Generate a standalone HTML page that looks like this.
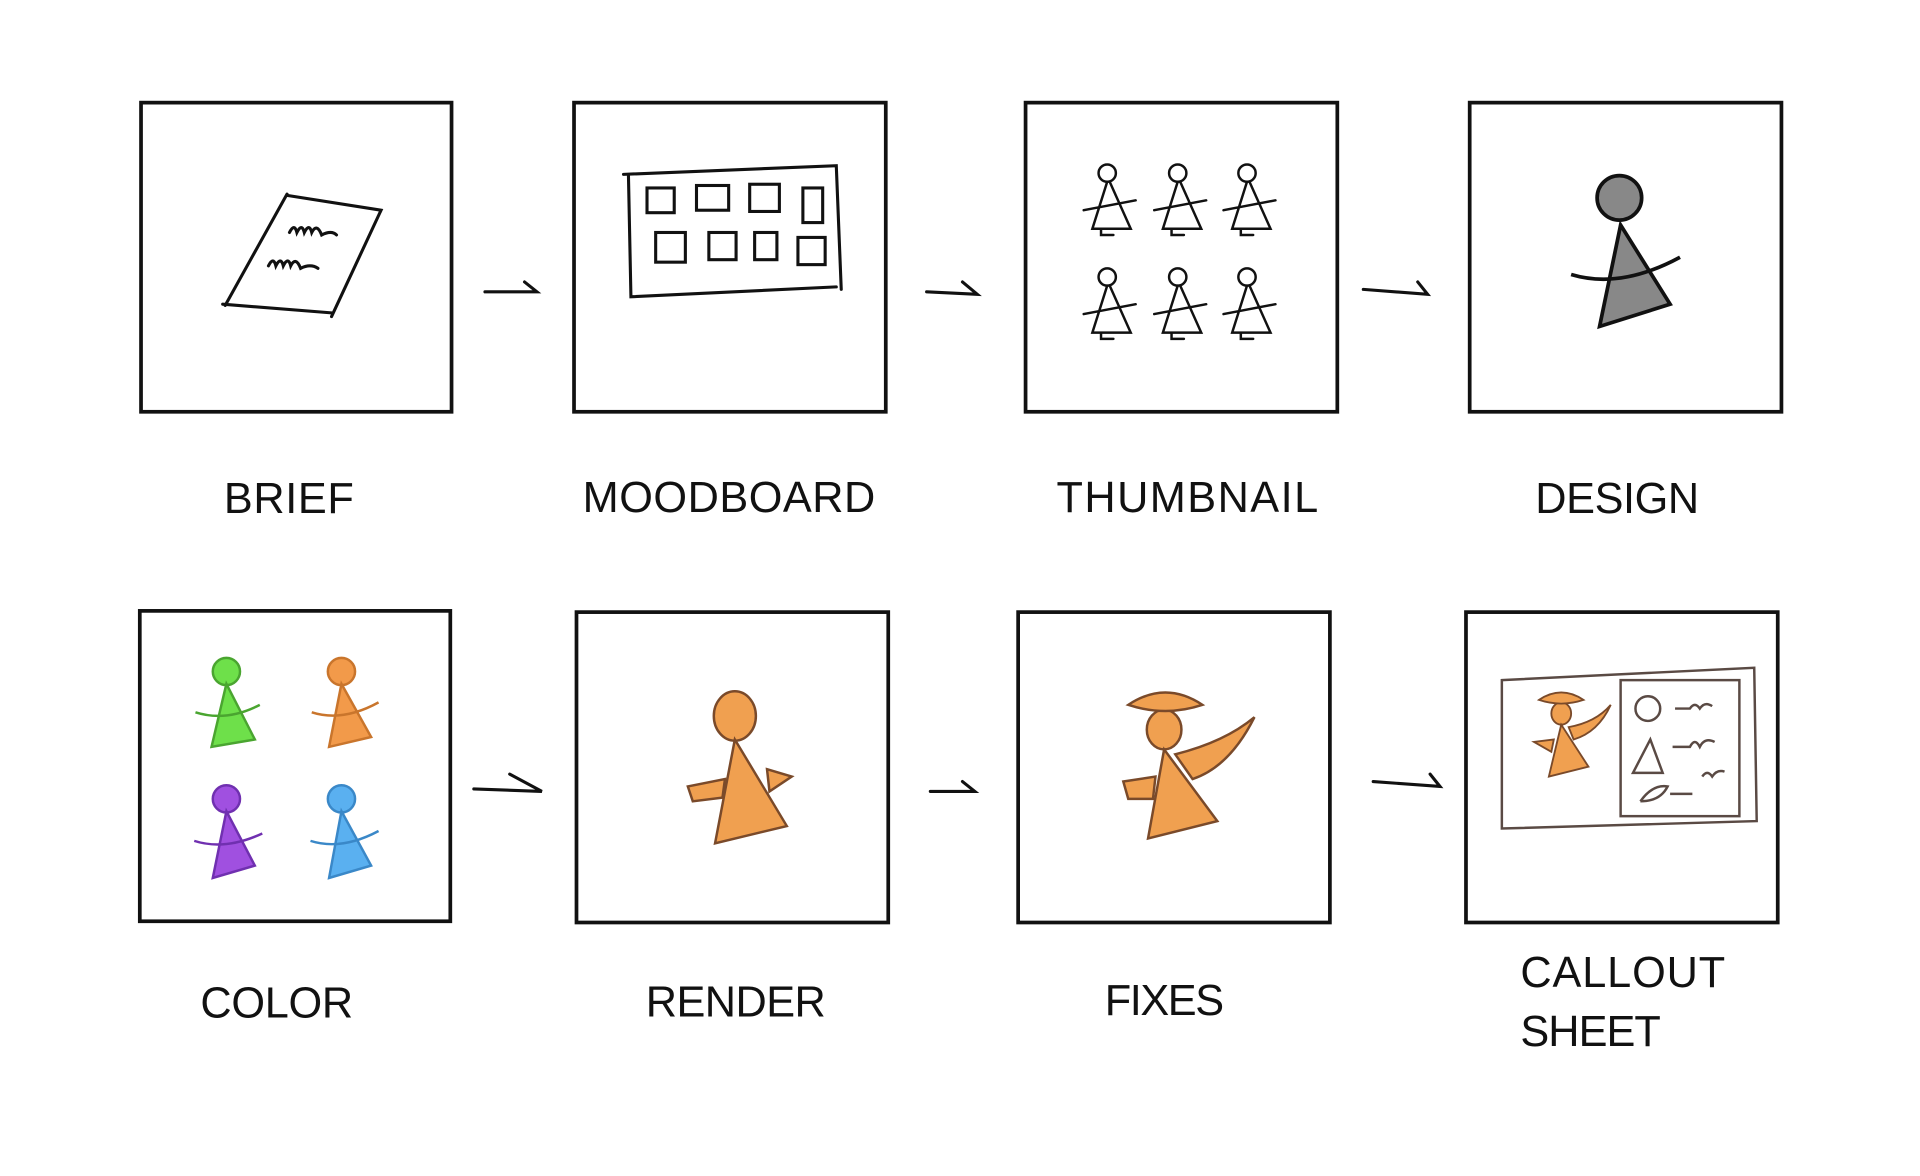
<!DOCTYPE html>
<html><head><style>html,body{margin:0;padding:0;background:#fff}svg{display:block}</style></head>
<body>
<svg width="1920" height="1176" viewBox="0 0 1552 951" preserveAspectRatio="none" xmlns="http://www.w3.org/2000/svg">
<g fill="none" stroke="#111" stroke-width="3">
<rect x="114" y="83" width="251" height="250"/>
<rect x="464" y="83" width="252" height="250"/>
<rect x="829" y="83" width="252" height="250"/>
<rect x="1188" y="83" width="252" height="250"/>
<rect x="113" y="494" width="251" height="251"/>
<rect x="466" y="495" width="252" height="251"/>
<rect x="823" y="495" width="252" height="251"/>
<rect x="1185" y="495" width="252" height="251"/>
</g>
<g fill="none" stroke="#111" stroke-width="2.5" stroke-linecap="round">
<path d="M392 236 L434 236 L424 228"/>
<path d="M749 236 L790 238 L778 228"/>
<path d="M1102 234 L1154 238 L1146 228"/>
<path d="M383 638 L438 640 L412 626"/>
<path d="M752 640 L788 640 L778 632"/>
<path d="M1110 632 L1164 636 L1156 626"/>
<path d="M232 157 L182 247 M180 246 L268 253 M232 158 L308 170 L268 256"/>
<path d="M234 188 q4 -8 6 0 q4 -8 6 0 q4 -8 6 0 q4 -8 8 2 q8 -4 12 0"/>
<path d="M217 215 q4 -8 6 0 q4 -8 6 0 q4 -8 6 0 q4 -8 8 2 q8 -4 14 0"/>
<path d="M504 141 L676 134 L680 234 M508 142 L510 240 L676 232"/>
<rect x="523" y="152" width="22" height="20"/><rect x="563" y="150" width="26" height="20"/><rect x="606" y="149" width="24" height="22"/><rect x="649" y="152" width="16" height="28"/>
<rect x="530" y="188" width="24" height="24"/><rect x="573" y="188" width="22" height="22"/><rect x="610" y="188" width="18" height="22"/><rect x="645" y="192" width="22" height="22"/>
</g>
<g fill="none" stroke="#111" stroke-width="2" stroke-linecap="round">
<g id="fig"><circle cx="895" cy="140" r="7"/><path d="M895 147 L883 185 L914 185 L897 147 M876 170 L918 162 M890 185 L890 190 L900 190"/></g>
<use href="#fig" x="57"/><use href="#fig" x="113"/><use href="#fig" y="84"/><use href="#fig" x="57" y="84"/><use href="#fig" x="113" y="84"/>
</g>
<circle cx="1309" cy="160" r="18" fill="#888" stroke="#111" stroke-width="3"/>
<path d="M1310 182 L1293 264 L1350 246 Z" fill="#888" stroke="#111" stroke-width="3"/>
<path d="M1270 222 q40 12 88 -14" fill="none" stroke="#111" stroke-width="3"/>
<g stroke-width="2">
<g fill="#6ee04a" stroke="#4aa530"><circle cx="183" cy="543" r="11"/><path d="M183 553 L171 604 L206 598Z"/><path d="M158 576 q25 8 52 -6" fill="none"/></g>
<g fill="#f29a4a" stroke="#c9752c"><circle cx="276" cy="543" r="11"/><path d="M276 553 L266 604 L300 596Z"/><path d="M252 576 q25 8 54 -8" fill="none"/></g>
<g fill="#a050e0" stroke="#7030b0"><circle cx="183" cy="646" r="11"/><path d="M183 656 L172 710 L206 700Z"/><path d="M157 680 q25 8 55 -6" fill="none"/></g>
<g fill="#5ab0f0" stroke="#3a88c8"><circle cx="276" cy="646" r="11"/><path d="M276 656 L266 710 L300 700Z"/><path d="M251 680 q25 8 55 -8" fill="none"/></g>
</g>
<g fill="#f0a050" stroke="#7a4a2a" stroke-width="2">
<ellipse cx="594" cy="579" rx="17" ry="20"/>
<path d="M594 598 L578 682 L636 668Z"/>
<path d="M556 636 L586 630 L584 645 L560 648Z M620 622 L640 628 L622 640Z"/>
<ellipse cx="941" cy="590" rx="14" ry="16"/>
<path d="M912 570 q30 -20 60 0 q-30 10 -60 0Z"/>
<path d="M941 606 L928 678 L984 664Z"/>
<path d="M950 610 q40 -10 64 -30 q-20 40 -50 50Z"/>
<path d="M908 632 L934 628 L932 646 L912 646Z"/>
</g>
<g fill="none" stroke="#5a4a44" stroke-width="2">
<path d="M1214 550 L1418 540 L1420 664 L1214 670Z"/>
<rect x="1310" y="550" width="96" height="110"/>
<circle cx="1332" cy="573" r="10"/><path d="M1354 573 h12 q4 -6 8 0 q4 -6 10 -2"/>
<path d="M1334 598 L1320 625 L1344 625Z M1352 604 h14 q4 -8 8 0 q4 -8 12 -4"/>
<path d="M1326 648 q10 -14 22 -12 q-6 12 -22 12 M1350 642 h18 M1376 628 q4 -6 8 0 q4 -6 10 -4"/>
</g>
<g fill="#f0a050" stroke="#7a4a2a" stroke-width="1.5">
<ellipse cx="1262" cy="577" rx="8" ry="9"/><path d="M1244 566 q18 -12 36 0 q-18 6 -36 0Z"/>
<path d="M1262 586 L1252 628 L1284 620Z"/><path d="M1268 588 q22 -4 34 -18 q-10 22 -30 28Z"/><path d="M1240 600 L1256 598 L1254 608Z"/>
</g>
<g font-family="'Liberation Sans', sans-serif" font-size="35" fill="#111" letter-spacing="0.5">
<text x="181" y="415">BRIEF</text>
<text x="471" y="414" textLength="237">MOODBOARD</text>
<text x="854" y="414" textLength="212">THUMBNAIL</text>
<text x="1241" y="415" textLength="133">DESIGN</text>
<text x="162" y="823" textLength="124">COLOR</text>
<text x="522" y="822" textLength="146">RENDER</text>
<text x="893" y="821" textLength="97">FIXES</text>
<text x="1229" y="798" textLength="166">CALLOUT</text>
<text x="1229" y="846" textLength="114">SHEET</text>
</g>
</svg>
</body></html>
